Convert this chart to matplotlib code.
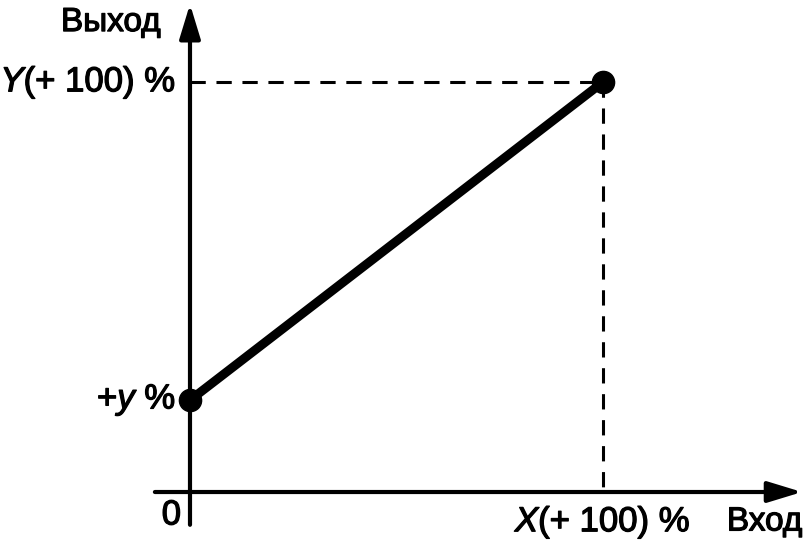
import matplotlib
matplotlib.use("Agg")
import matplotlib.pyplot as plt
import matplotlib.patheffects as pe

plt.rcParams['font.family'] = ['Liberation Sans', 'DejaVu Sans']
plt.rcParams['mathtext.fontset'] = 'custom'
plt.rcParams['mathtext.rm'] = 'Liberation Sans'
plt.rcParams['mathtext.it'] = 'Liberation Sans:italic'

# Data (percent of input / output)
x_points = [0, 100]
y_points = [22.4, 100]
x_label = "Вход"
y_label = "Выход"
y_tick_labels = ["+$\\mathit{y}$ %", "$\\mathit{Y}$(+ 100) %"]
x_tick_labels = ["0", "$\\mathit{X}$(+ 100) %"]

fig = plt.figure(figsize=(8.05, 5.44), dpi=100)
ax = fig.add_axes([0, 0, 1, 1])
ax.set_xlim(-46.0, 148.9)
ax.set_ylim(-12.68, 120.0)
ax.axis('off')

astyle = '-|>,head_length=1.05,head_width=0.32'
# axes with arrows
ax.annotate("", xy=(0, 119.0), xytext=(0, -8.0),
            arrowprops=dict(arrowstyle=astyle, lw=3, color='black',
                            shrinkA=0, shrinkB=0, mutation_scale=20))
ax.annotate("", xy=(148.2, 0), xytext=(-8.5, 0),
            arrowprops=dict(arrowstyle=astyle, lw=3, color='black',
                            shrinkA=0, shrinkB=0, mutation_scale=20))

# dashed guides
ax.plot([0, x_points[1]], [y_points[1], y_points[1]], color='black', lw=2.2,
        dashes=(5, 3.5))
ax.plot([x_points[1], x_points[1]], [y_points[1], 0], color='black', lw=2.2,
        dashes=(5, 3.5))

# main line
ax.plot(x_points, y_points, color='black', lw=6.5, solid_capstyle='round', zorder=5)
ax.plot(x_points, y_points, 'o', color='black', ms=16, zorder=6)

eff = [pe.withStroke(linewidth=0.9, foreground='black')]
fs = 25
ax.text(-3.4, y_points[1], y_tick_labels[1], ha='right', va='center', fontsize=fs, path_effects=eff)
ax.text(-3.4, y_points[0], y_tick_labels[0], ha='right', va='center', fontsize=fs, path_effects=eff)
ax.text(-4.5, -5.6, x_tick_labels[0], ha='center', va='center', fontsize=fs, path_effects=eff)
ax.text(x_points[1], -7.3, x_tick_labels[1], ha='center', va='center', fontsize=fs, path_effects=eff)
ax.text(148.3, -7.3, x_label, ha='right', va='center', fontsize=24, path_effects=eff)
ax.text(-7.0, 114.5, y_label, ha='right', va='center', fontsize=24, path_effects=eff)

fig.savefig("out.png", dpi=100)
